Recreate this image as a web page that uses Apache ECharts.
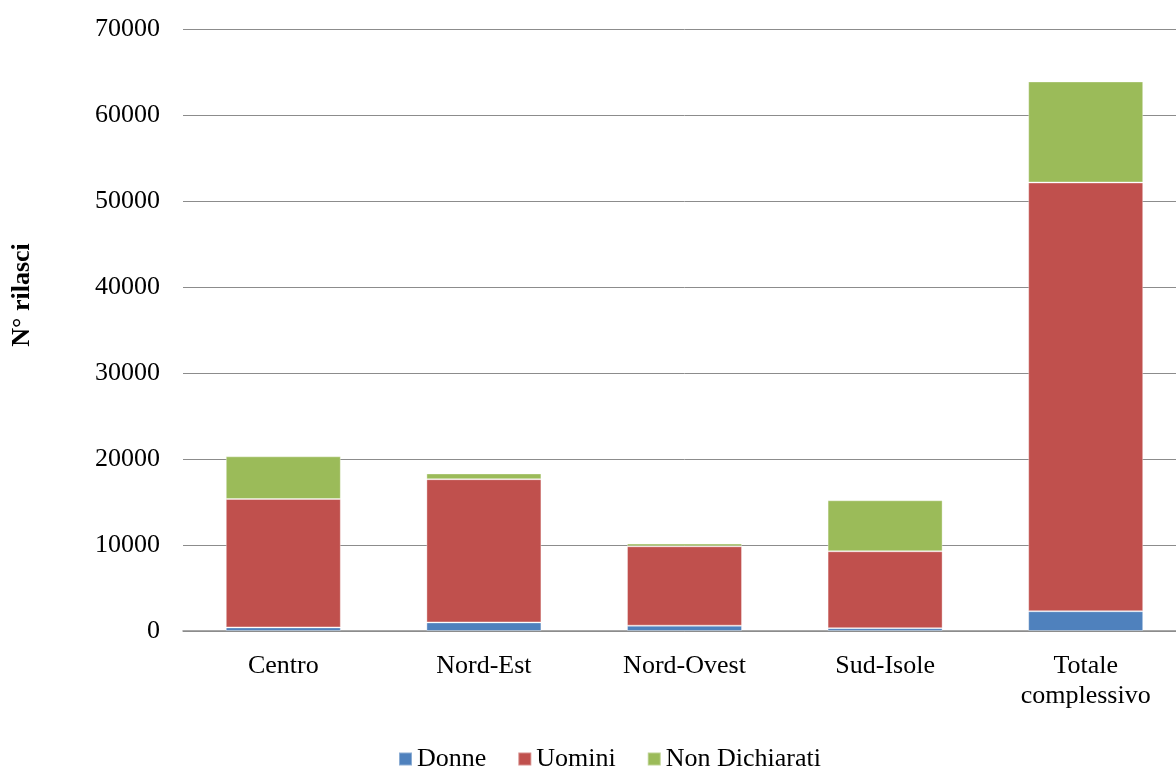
<!DOCTYPE html>
<html>
<head>
<meta charset="utf-8">
<title>N° rilasci per area</title>
<script src="https://cdn.jsdelivr.net/npm/echarts@6/dist/echarts.min.js"></script>
<style>
  html, body { margin: 0; padding: 0; background: #ffffff; overflow: hidden; }
  /* the plot runs a little past the right edge of the window */
  #chart { width: 1186px; height: 767px; }
</style>
</head>
<body>
<div id="chart"></div>
<script>
// Areas on the category axis
const categories = ['Centro', 'Nord-Est', 'Nord-Ovest', 'Sud-Isole', 'Totale\ncomplessivo'];

// Number of releases per group, stacked
const donne = [420, 1000, 620, 330, 2300];
const uomini = [14930, 16650, 9230, 8940, 49850];
const nonDichiarati = [4960, 670, 310, 5930, 11750];

// Value-axis ticks
const yTicks = [0, 10000, 20000, 30000, 40000, 50000, 60000, 70000];

const font = '"Liberation Serif", "Times New Roman", serif';
const chart = echarts.init(document.getElementById('chart'), null, { renderer: 'canvas' });

const barStyle = (color) => ({
  type: 'bar',
  stack: 'total',
  barWidth: 115,
  itemStyle: { color: color, borderColor: 'rgba(255,255,255,0.35)', borderWidth: 1 },
  emphasis: { disabled: true }
});

chart.setOption({
  animation: false,
  backgroundColor: '#ffffff',
  textStyle: { fontFamily: font },
  grid: { left: 183, top: 29, width: 1003, height: 602, containLabel: false },
  legend: {
    left: 398,
    top: 746,
    padding: 0,
    itemWidth: 13,
    itemHeight: 13,
    itemGap: 31,
    icon: 'rect',
    textStyle: { fontFamily: font, fontSize: 26, color: '#000' },
    data: ['Donne', 'Uomini', 'Non Dichiarati']
  },
  graphic: [{
    type: 'text',
    x: 22,
    y: 295,
    rotation: Math.PI / 2,
    style: {
      text: 'N° rilasci',
      font: 'bold 26px ' + font,
      fill: '#000',
      align: 'center',
      verticalAlign: 'middle'
    }
  }],
  xAxis: {
    type: 'category',
    data: categories,
    axisLine: { show: true, lineStyle: { color: '#8c8c8c', width: 1.5 } },
    axisTick: { show: false },
    axisLabel: {
      fontFamily: font, fontSize: 26, color: '#000',
      margin: 20, lineHeight: 30, interval: 0
    }
  },
  yAxis: {
    type: 'value',
    min: yTicks[0],
    max: yTicks[yTicks.length - 1],
    interval: yTicks[1] - yTicks[0],
    axisLine: { show: false },
    axisTick: { show: false },
    splitLine: { lineStyle: { color: '#8c8c8c', width: 1 } },
    axisLabel: {
      fontFamily: font, fontSize: 26, color: '#000', margin: 23,
      padding: [4, 0, 0, 0],
      formatter: (v) => String(v)
    }
  },
  series: [
    Object.assign(barStyle('#4F81BD'), { name: 'Donne', data: donne }),
    Object.assign(barStyle('#C0504D'), { name: 'Uomini', data: uomini }),
    Object.assign(barStyle('#9BBB59'), { name: 'Non Dichiarati', data: nonDichiarati })
  ]
});
</script>
</body>
</html>
